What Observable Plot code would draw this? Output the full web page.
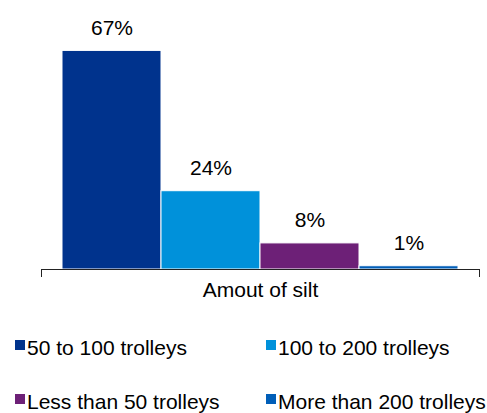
<!DOCTYPE html>
<html><head><meta charset="utf-8">
<script src="https://cdn.jsdelivr.net/npm/d3@7"></script>
<script src="https://cdn.jsdelivr.net/npm/@observablehq/plot@0.6"></script>
<style>
html,body{margin:0;padding:0;overflow:hidden;background:#fff;}
body{width:487px;height:413px;font-family:"Liberation Sans",Arial,sans-serif;}
#chart svg{display:block;}
#legend{display:grid;grid-template-columns:251px 236px;row-gap:30px;padding-top:26px;padding-left:15px;font-size:21px;line-height:24px;color:#000;}
.item{display:flex;align-items:flex-start;white-space:nowrap;}
.sw{width:10px;height:10px;margin-top:3.5px;margin-right:2px;flex:none;}
</style></head><body>
<div id="chart"></div><div id="legend"></div>
<script>
const category = "Amout of silt";
const series = ["50 to 100 trolleys", "100 to 200 trolleys", "Less than 50 trolleys", "More than 200 trolleys"];
const values = [0.67, 0.24, 0.08, 0.01];
const valueLabels = ["67%", "24%", "8%", "1%"];
const colors = ["#00338D", "#0091DA", "#6D2077", "#005EB8"];

const data = series.map((s, i) => ({series: s, value: values[i], label: valueLabels[i]}));
const font = "'Liberation Sans', Arial, sans-serif";

const plot = Plot.plot({
  width: 487, height: 310,
  marginTop: 8, marginBottom: 34, marginLeft: 41, marginRight: 8, insetBottom: 7,
  style: {fontFamily: font, fontSize: "21px", color: "#000", background: "#fff"},
  x: {type: "band", domain: series, paddingInner: 0, paddingOuter: 0.2, axis: null},
  y: {domain: [0, 0.8], axis: null},
  color: {domain: series, range: colors},
  marks: [
    Plot.barY(data, {x: "series", y: "value", fill: "series", stroke: "white", strokeWidth: 1}),
    Plot.text(data, {x: "series", y: "value", text: "label", dy: -23, fontSize: 21, fill: "#000"}),
    Plot.ruleY([0], {stroke: "#222", strokeWidth: 1}),
    Plot.frame({anchor: "left", insetTop: 261, stroke: "#222"}),
    Plot.frame({anchor: "right", insetTop: 261, stroke: "#222"}),
    Plot.text([category], {frameAnchor: "bottom", dy: 20, fontSize: 21, fill: "#000"})
  ]
});
document.getElementById("chart").appendChild(plot);

const legend = document.getElementById("legend");
series.forEach((s, i) => {
  const item = document.createElement("div");
  item.className = "item";
  const sw = document.createElement("span");
  sw.className = "sw";
  sw.style.background = colors[i];
  const t = document.createElement("span");
  t.textContent = s;
  item.appendChild(sw);
  item.appendChild(t);
  legend.appendChild(item);
});
</script>
</body></html>
